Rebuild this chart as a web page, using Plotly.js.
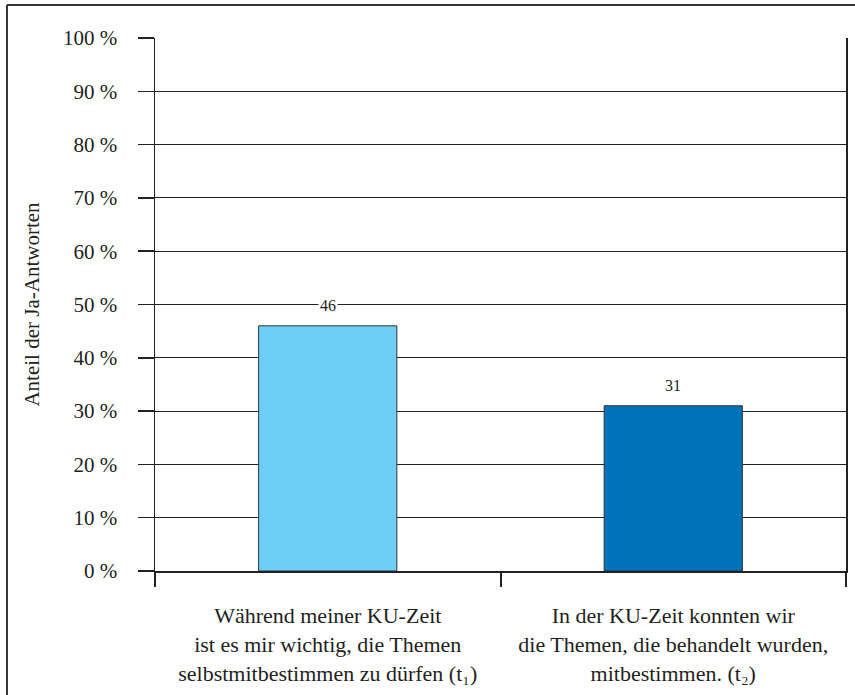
<!DOCTYPE html>
<html>
<head>
<meta charset="utf-8">
<script src="https://cdn.plot.ly/plotly-3.0.1.min.js"></script>
<style>html,body{margin:0;padding:0;background:#fff;}</style>
</head>
<body>
<div id="chart" style="width:855px;height:695px;"></div>
<script>
var categories = [
  "Während meiner KU-Zeit<br>ist es mir wichtig, die Themen<br>selbstmitbestimmen zu dürfen (t₁)",
  "In der KU-Zeit konnten wir<br>die Themen, die behandelt wurden,<br>mitbestimmen. (t₂)"
];
var values = [46, 31];
var valueLabels = ["46", "31"];
var barColors = ["#6DCFF6", "#0072BC"];
var yTickVals = [0, 10, 20, 30, 40, 50, 60, 70, 80, 90, 100];
var yTickText = ["0 %", "10 %", "20 %", "30 %", "40 %", "50 %", "60 %", "70 %", "80 %", "90 %", "100 %"];
var yTitle = "Anteil der Ja-Antworten";

var FONT = "'Liberation Serif', 'DejaVu Serif', serif";
var INK = "#231F20";

var trace = {
  type: "bar",
  x: categories,
  y: values,
  width: 0.4,
  marker: {color: barColors, line: {color: "#333333", width: 1}},
  hoverinfo: "skip"
};

var annotations = values.map(function (v, i) {
  return {
    x: categories[i], y: v, xref: "x", yref: "y",
    text: valueLabels[i], showarrow: false,
    yshift: 20, bgcolor: "#ffffff", borderpad: 1,
    font: {family: FONT, size: 16, color: INK}
  };
});

var layout = {
  width: 855, height: 695,
  margin: {l: 155, r: 9, t: 38, b: 124},
  paper_bgcolor: "#ffffff", plot_bgcolor: "#ffffff",
  showlegend: false,
  font: {family: FONT, color: INK, size: 22},
  xaxis: {
    type: "category",
    tickson: "boundaries",
    ticks: "outside", ticklen: 14, tickwidth: 2, tickcolor: "#222222",
    showline: true, linecolor: "#222222", linewidth: 2,
    showgrid: false, zeroline: false,
    ticklabelstandoff: 24,
    tickfont: {family: FONT, size: 22, color: INK}
  },
  yaxis: {
    range: [0, 100],
    tickvals: yTickVals, ticktext: yTickText,
    ticks: "outside", ticklen: 16, tickwidth: 1.5, tickcolor: "#222222",
    showline: true, linecolor: "#222222", linewidth: 1.5, mirror: true,
    showgrid: true, gridcolor: "#222222", gridwidth: 1,
    zeroline: false,
    ticklabelstandoff: 16,
    tickfont: {family: FONT, size: 21, color: INK},
    title: {text: yTitle, font: {family: FONT, size: 21, color: INK}, standoff: 17}
  },
  annotations: annotations,
  shapes: [
    {type: "line", xref: "paper", yref: "paper", x0: -0.2142, x1: -0.2142, y0: -0.3, y1: 1.0619,
     line: {color: "#333333", width: 2}},
    {type: "line", xref: "paper", yref: "paper", x0: -0.2142, x1: 1.05, y0: 1.0619, y1: 1.0619,
     line: {color: "#333333", width: 2}}
  ]
};

Plotly.newPlot("chart", [trace], layout, {staticPlot: true, displayModeBar: false});
</script>
</body>
</html>
